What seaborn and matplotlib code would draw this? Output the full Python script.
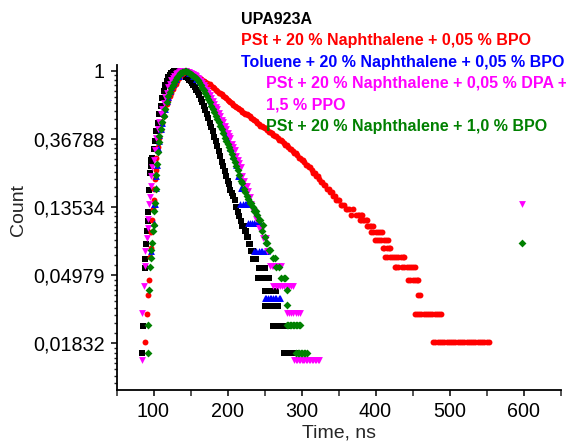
import numpy as np
import pandas as pd
import matplotlib
matplotlib.use('Agg')
import matplotlib.pyplot as plt
import seaborn as sns
from matplotlib.ticker import FixedLocator, FixedFormatter, NullFormatter

# Decay curves: channel time (ns) and photon counts
black_time = [85, 86, 88, 89, 90, 91, 92, 93, 94, 95, 96, 97, 98, 100, 102, 104, 106, 108, 110, 112,
              114, 116, 118, 120, 122, 124, 126, 128,
              130, 132, 134, 136, 138, 140, 142, 144, 146, 148, 150, 152, 154, 156, 158, 160, 162, 164,
              166, 168, 170, 172, 174, 176, 178, 180, 182, 184, 186, 188, 190, 192, 194, 196, 198, 200,
              202, 204, 206, 208, 210, 212,
              214, 216, 218, 220, 222, 223, 225, 226, 228, 229, 231, 232, 234, 235, 237, 238,
              242, 245, 248, 251,
              241, 243, 246, 249, 252, 254, 256,
              250, 253, 255, 258, 260, 262, 264, 266,
              251, 257, 259, 261, 263, 265, 267, 268,
              261, 263, 265, 267, 269, 271, 273, 275, 277, 279, 281,
              276, 278, 280, 282, 284, 286, 288, 290, 292, 294]
black_counts = [2, 3, 7, 8, 10, 12, 14, 16, 22, 28, 31, 34, 35, 40, 45, 52, 59, 67, 75, 85,
                94, 102, 109, 115, 119, 123, 125, 126,
                126, 126, 125, 124, 122, 120, 118, 116, 113, 110, 108, 105, 102, 99, 95, 92, 88, 84,
                80, 75, 71, 67, 63, 59, 55, 52, 48, 45, 42, 39, 36, 33, 31, 29, 27, 25,
                24, 22, 21, 20, 19, 17,
                16, 15, 14, 13, 13, 12, 12, 11, 11, 10, 10, 9, 9, 8, 8, 8,
                7, 7, 7, 7,
                6, 6, 6, 6, 6, 6, 6,
                5, 5, 5, 5, 5, 5, 5, 5,
                4, 4, 4, 4, 4, 4, 4, 4,
                3, 3, 3, 3, 3, 3, 3, 3, 3, 3, 3,
                2, 2, 2, 2, 2, 2, 2, 2, 2, 2]

red_time = [89, 91, 93, 94, 95, 96, 97, 98, 99, 100, 101, 102, 103, 104, 106, 108, 110, 112, 114, 116,
            118, 120, 122, 124, 126, 128, 130, 132, 134, 136, 138, 140, 142, 144, 146,
            148, 150, 152, 154, 156, 158, 160, 162, 164, 166, 168, 170, 172, 174, 176, 178, 180, 182,
            184, 186, 188, 190, 192, 194, 196, 198, 200, 202, 204, 206, 208, 210, 212, 214, 216, 218,
            220, 222, 224, 226, 228, 230, 232, 234, 236, 238, 240, 242, 244, 246, 248, 250, 252, 254,
            256, 258, 260, 262, 264, 266, 268, 270, 272, 274, 276, 278, 280, 282, 284, 286, 288, 290,
            292, 294, 296, 298, 300, 302, 304, 306, 308, 310, 312, 314, 316, 318, 320, 322, 324, 326,
            328, 330, 332, 334,
            337, 339, 341, 343, 345, 347, 349, 351, 353, 355, 358, 360, 362, 364, 367, 370,
            374, 376, 378, 380, 382,
            379, 381, 383, 385, 387, 389,
            388, 390, 392, 394, 396,
            394, 397, 400, 403, 406, 409,
            399, 402, 405, 408, 411, 414, 417,
            410, 412, 415, 418, 420,
            413, 416, 419, 422, 425, 428, 431, 434, 437, 439,
            426, 428, 431, 436, 439, 442, 445, 448, 451, 454,
            444, 447, 450, 453, 456, 458,
            457, 460,
            453, 456, 459, 462, 465, 468, 471, 474, 477, 480, 483, 486, 489,
            478, 481, 484, 487, 490, 493, 496, 499, 502, 505, 508, 511, 514, 517, 520, 523, 526,
            529, 532, 535, 538, 541, 544, 547, 550, 553]
red_counts = [2, 3, 4, 5, 7, 8, 10, 12, 14, 16, 19, 22, 25, 30, 35, 40, 45, 50, 55, 61,
              66, 70, 74, 78, 82, 86, 89, 92, 96, 99, 102, 104, 106, 107, 107,
              106, 104, 103, 101, 100, 99, 98, 97, 95, 94, 92, 91, 90, 89, 88, 86, 84, 83,
              81, 80, 78, 78, 76, 74, 73, 72, 70, 69, 68, 67, 65, 64, 63, 62, 61, 60,
              59, 58, 57, 57, 56, 55, 54, 53, 52, 51, 50, 49, 48, 48, 47, 46, 46, 45,
              44, 44, 43, 42, 41, 41, 40, 39, 39, 38, 37, 36, 36, 35, 34, 34, 33, 32,
              32, 31, 30, 30, 29, 29, 28, 27, 27, 26, 26, 25, 24, 24, 23, 23, 22, 21,
              21, 20, 20, 19,
              19, 18, 18, 17, 17, 16, 16, 16, 15, 15, 15, 14, 14, 14, 13, 14,
              13, 13, 13, 13, 13,
              12, 12, 12, 12, 12, 12,
              11, 11, 11, 11, 11,
              10, 10, 10, 10, 10, 10,
              9, 9, 9, 9, 9, 9, 9,
              8, 8, 8, 8, 8,
              7, 7, 7, 7, 7, 7, 7, 7, 7, 7,
              6, 6, 6, 6, 6, 6, 6, 6, 6, 6,
              5, 5, 5, 5, 5, 5,
              4, 4,
              3, 3, 3, 3, 3, 3, 3, 3, 3, 3, 3, 3, 3,
              2, 2, 2, 2, 2, 2, 2, 2, 2, 2, 2, 2, 2, 2, 2, 2, 2,
              2, 2, 2, 2, 2, 2, 2, 2, 2]

blue_time = [97, 100, 101, 102, 103, 104, 105, 106, 107, 108, 110, 112, 114, 116, 118, 120, 122, 124,
             126, 128, 130, 132, 134, 136, 138, 140, 142,
             144, 146, 148, 150, 152, 154, 156, 158, 160, 162, 164, 166, 168, 170, 172, 174, 176, 178,
             180, 182, 184, 186, 188, 190, 192, 194, 196, 198, 200, 202, 204, 206, 208, 210, 212, 214,
             216,
             218, 220,
             217, 221, 223, 225, 227, 229,
             228, 231, 233, 236, 238, 241, 244,
             236, 239, 242, 245, 247, 250, 253,
             250, 252, 255, 257, 259, 262, 264, 266, 269, 271]
blue_counts = [2, 3, 4, 4, 5, 6, 7, 9, 10, 11, 12, 13, 15, 16, 18, 19, 21, 22,
               23, 24, 25, 26, 26, 27, 28, 28, 28,
               28, 28, 27, 27, 27, 26, 26, 25, 25, 24, 24, 23, 22, 22, 21, 20, 19, 18,
               17, 17, 16, 15, 14, 14, 13, 13, 12, 11, 10, 10, 9, 9, 8, 8, 7, 6,
               6,
               5, 5,
               4, 4, 4, 4, 4, 4,
               3, 3, 3, 3, 3, 3, 3,
               2, 2, 2, 2, 2, 2, 2,
               1, 1, 1, 1, 1, 1, 1, 1, 1, 1]

magenta_time = [84, 85, 87, 88, 89, 91, 92, 93, 94, 95, 96, 97, 98,
                100, 102, 104, 106, 108, 110, 112, 114, 116, 118, 120, 122, 124, 126, 128, 130, 132,
                134, 136, 138, 140, 142,
                144, 146, 148, 150, 152, 154, 156, 158, 160, 162, 164, 166, 168, 170, 172, 174, 176,
                178, 180, 182, 184, 186, 188, 190, 192, 194, 196, 198, 200, 202, 204, 206, 208, 210,
                212, 214, 216, 218, 220, 222, 224, 226, 228, 230, 232, 234, 236, 238, 240, 242, 244,
                246, 248, 250, 252, 254, 256,
                258, 260, 262, 264, 266, 268, 270, 272,
                262, 265, 268, 271, 274, 277, 280, 283, 286, 289,
                280, 283, 286, 289, 292, 295, 298,
                290, 292, 294, 296, 298, 300, 302, 304, 306, 308, 310, 312, 314, 316, 318, 320, 322, 324,
                598]
magenta_counts = [1, 2, 3, 4, 5, 6, 7, 8, 10, 11, 13, 15, 17,
                  19, 22, 26, 30, 33, 37, 40, 44, 48, 51, 55, 58, 61, 63, 65, 67, 68,
                  69, 70, 70, 70, 70,
                  70, 69, 69, 68, 67, 67, 66, 65, 63, 62, 60, 59, 57, 55, 53, 51, 49,
                  47, 45, 43, 41, 40, 38, 36, 34, 33, 31, 30, 28, 27, 26, 24, 23, 22,
                  20, 19, 18, 17, 15, 14, 13, 13, 12, 11, 10, 9, 9, 8, 8, 7, 7,
                  7, 6, 6, 6, 5, 5,
                  4, 4, 4, 4, 4, 4, 4, 4,
                  3, 3, 3, 3, 3, 3, 3, 3, 3, 3,
                  2, 2, 2, 2, 2, 2, 2,
                  1, 1, 1, 1, 1, 1, 1, 1, 1, 1, 1, 1, 1, 1, 1, 1, 1, 1,
                  10]

green_time = [92, 93, 94, 95, 96, 97, 98, 99, 100, 101, 102, 103, 104, 105, 106, 107, 108,
              110, 112, 114, 116, 118, 120, 122, 124, 126, 128, 130, 132, 134, 136, 138, 140, 142, 144,
              146, 148, 150, 152, 154, 156, 158, 160, 162, 164, 166, 168, 170, 172, 174, 176, 178, 180,
              182, 184, 186, 188, 190, 192, 194, 196, 198, 200, 202, 204, 206, 208, 210, 212, 214, 216,
              218, 220, 222, 224, 226, 228, 230, 232, 234, 236, 238, 240, 242, 244,
              246, 248, 250, 252, 254, 256, 258, 262, 264, 266, 269, 272, 276, 278, 280, 281,
              280, 282, 284, 286, 288, 290, 292, 294, 296, 298,
              293, 295, 297, 299, 301, 303, 305, 307,
              598]
green_counts = [2, 3, 5, 7, 8, 9, 10, 12, 13, 16, 18, 22, 27, 32, 38, 44, 48,
                53, 59, 65, 72, 79, 86, 92, 97, 102, 107, 111, 115, 118, 121, 123, 124, 125, 125,
                123, 121, 120, 118, 116, 114, 112, 109, 106, 102, 98, 94, 90, 86, 83, 79, 75, 72,
                68, 65, 62, 59, 56, 53, 50, 47, 45, 43, 41, 39, 37, 35, 33, 31, 29, 27,
                25, 24, 22, 21, 20, 19, 18, 18, 17, 16, 16, 15, 14, 14,
                12, 13, 11, 10, 10, 9, 9, 8, 8, 7, 7, 6, 6, 6, 5, 4,
                3, 3, 3, 3, 3, 3, 3, 3, 3, 3,
                2, 2, 2, 2, 2, 2, 2, 2,
                10]

title = 'UPA923A'
sample_names = ['PSt + 20 % Naphthalene + 0,05 % BPO',
                'Toluene + 20 % Naphthalene + 0,05 % BPO',
                'PSt + 20 % Naphthalene + 0,05 % DPA +',
                '1,5 % PPO',
                'PSt + 20 % Naphthalene + 1,0 % BPO']
y_tick_labels = ['1', '0,36788', '0,13534', '0,04979', '0,01832']
x_ticks = [100, 200, 300, 400, 500, 600]

sns.set_style('ticks')
plt.rcParams['font.family'] = ['Liberation Sans', 'DejaVu Sans']

fig = plt.figure(figsize=(5.66, 4.42), dpi=100)
ax = fig.add_axes([116.5 / 566, 1 - 390 / 442, 444 / 566, 325 / 442])

series = [
    (black_time, black_counts, 'black', 's', 15),
    (red_time, red_counts, '#ff0000', 'o', 18),
    (blue_time, blue_counts, '#0000ff', '^', 24),
    (magenta_time, magenta_counts, '#ff00ff', 'v', 24),
    (green_time, green_counts, '#008000', 'D', 16),
]
for t, c, color, marker, size in series:
    df = pd.DataFrame({'time': t, 'count': np.array(c) / max(c)})
    sns.scatterplot(data=df, x='time', y='count', color=color, marker=marker, s=size,
                    linewidth=0, ax=ax, legend=False)

ax.set_yscale('log')
ax.set_xlim(50, 650)
ax.set_ylim(0.00924, 1.092)

# y axis: ticks at e^-n like the original ln scale
y_major = [np.exp(-n) for n in range(5)]
y_minor = []
for n in range(6):
    lo, hi = np.exp(-(n + 1)), np.exp(-n)
    for j in range(1, 10):
        v = lo + j * (hi - lo) / 10
        if 0.00924 < v < 1.092:
            y_minor.append(v)
ax.yaxis.set_major_locator(FixedLocator(y_major))
ax.yaxis.set_major_formatter(FixedFormatter(y_tick_labels))
ax.yaxis.set_minor_locator(FixedLocator(y_minor))
ax.yaxis.set_minor_formatter(NullFormatter())

ax.xaxis.set_major_locator(FixedLocator(x_ticks))
ax.xaxis.set_minor_locator(FixedLocator([50, 150, 250, 350, 450, 550, 650]))

ax.tick_params(axis='both', which='major', direction='out', length=4.5, width=1.1,
               labelsize=14.2, pad=4, colors='black')
ax.tick_params(axis='y', which='minor', direction='out', length=2.5, width=1.0)
ax.tick_params(axis='x', which='minor', direction='out', length=4.5, width=1.1)

for side in ['top', 'right']:
    ax.spines[side].set_visible(False)
for side in ['left', 'bottom']:
    ax.spines[side].set_linewidth(1.3)
    ax.spines[side].set_color('black')

ax.set_xlabel('')
ax.set_ylabel('')
fig.text(338.5 / 566, 1 - 433 / 442, 'Time, ns', ha='center', va='center', fontsize=14)
fig.text(18 / 566, 1 - 210 / 442, 'Count', ha='center', va='center', rotation=90, fontsize=14)

# text legend at the top right
text_rows = [
    (title, 'black', 241, 24),
    (sample_names[0], '#ff0000', 241, 45),
    (sample_names[1], '#0000ff', 241, 67),
    (sample_names[2], '#ff00ff', 266, 88),
    (sample_names[3], '#ff00ff', 266, 109),
    (sample_names[4], '#008000', 266, 131),
]
for txt, color, x, y in text_rows:
    fig.text(x / 566, 1 - y / 442, txt, color=color, fontsize=11.5, fontweight='bold',
             ha='left', va='baseline')

fig.savefig('out.png', dpi=100)
